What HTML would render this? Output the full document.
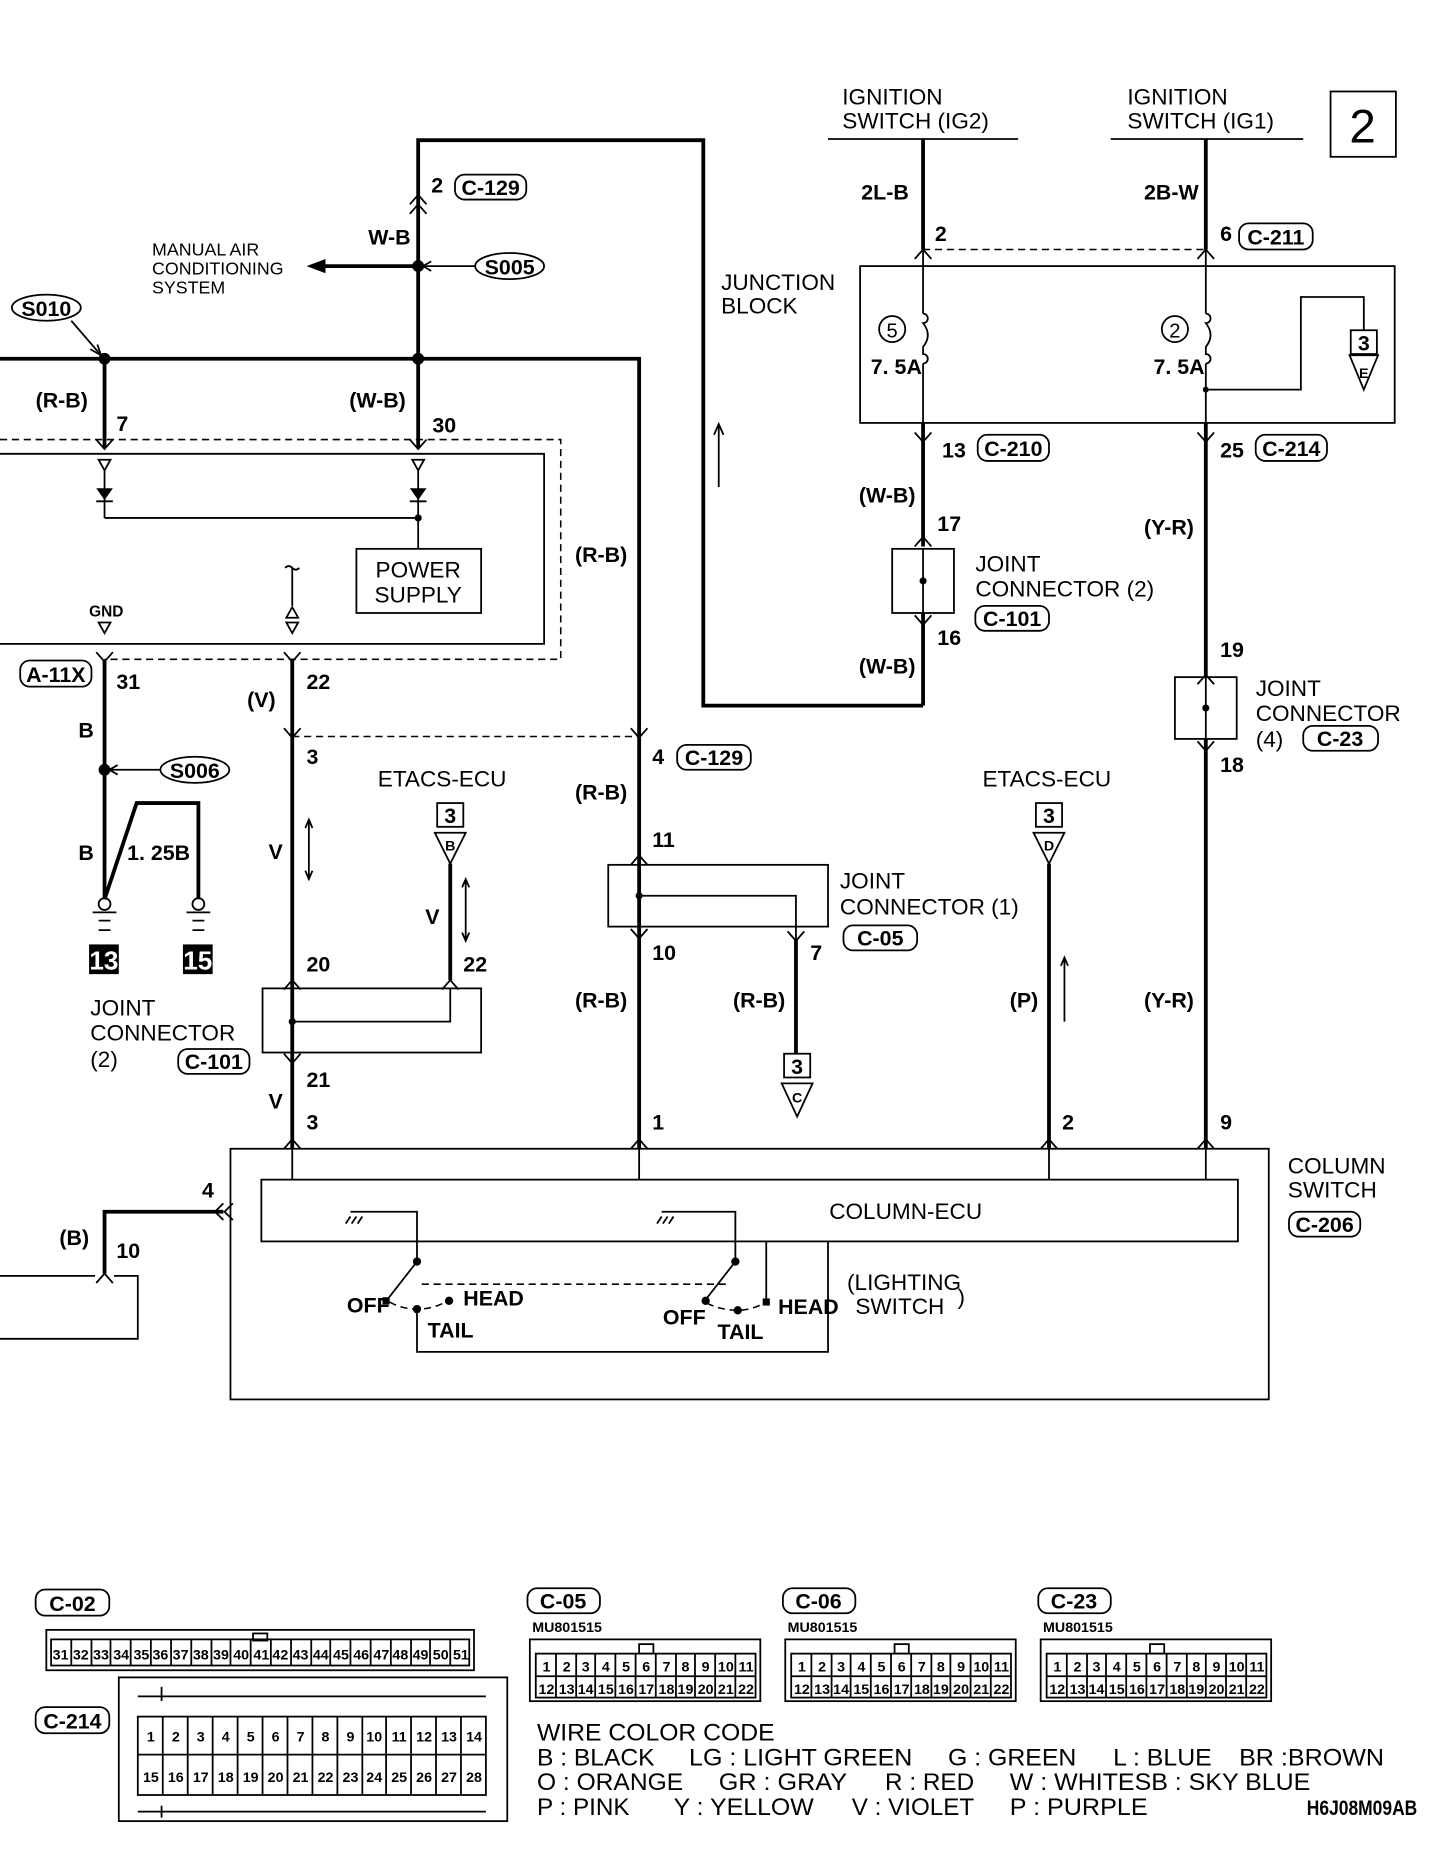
<!DOCTYPE html>
<html><head><meta charset="utf-8"><style>
html,body{margin:0;padding:0;background:#fff;}
svg{display:block}
text{font-family:"Liberation Sans",sans-serif;fill:#000}
.b{font-family:"Liberation Sans Narrow","Liberation Sans",sans-serif;font-weight:bold;font-size:18px}
.n{font-size:19px}
.s{font-size:15px}
.w{stroke:#000;stroke-width:3.2;fill:none}
.t{stroke:#000;stroke-width:1.5;fill:none}
.d{stroke:#000;stroke-width:1.3;fill:none;stroke-dasharray:6 4}
.bd{fill:none;stroke:#000;stroke-width:1.5}
.c{font-family:"Liberation Sans Narrow","Liberation Sans",sans-serif;font-weight:bold;font-size:12px}
</style></head><body>
<svg width="1456" height="1862" viewBox="0 0 1225.6 1567.4" preserveAspectRatio="none" xmlns="http://www.w3.org/2000/svg">
<rect x="1120" y="77" width="55" height="55" class="t" stroke-width="2"/>
<text x="1147" y="120" font-size="40" text-anchor="middle">2</text>

<text x="709" y="88" class="n">IGNITION</text>
<text x="709" y="108" class="n">SWITCH (IG2)</text>
<line x1="697" y1="117" x2="857" y2="117" class="t"/>
<text x="949" y="88" class="n">IGNITION</text>
<text x="949" y="108" class="n">SWITCH (IG1)</text>
<line x1="935" y1="117" x2="1097" y2="117" class="t"/>

<line x1="777" y1="117" x2="777" y2="210" class="w"/>
<line x1="1015" y1="117" x2="1015" y2="210" class="w"/>
<text x="725" y="168" class="b">2L-B</text>
<text x="963" y="168" class="b">2B-W</text>
<text x="787" y="203" class="b">2</text>
<text x="1027" y="203" class="b">6</text>
<rect x="1043" y="188" width="62" height="22" rx="8" class="bd"/><text x="1074" y="206" class="b" text-anchor="middle">C-211</text>
<line x1="777" y1="210" x2="1015" y2="210" class="d"/>
<path d="M770,218 L777,210 L784,218 M1008,218 L1015,210 L1022,218" class="t"/>

<rect x="724" y="224" width="450" height="132" class="t"/>
<text x="607" y="244" class="n">JUNCTION</text>
<text x="607" y="264" class="n">BLOCK</text>
<line x1="777" y1="210" x2="777" y2="264" class="t"/>
<line x1="1015" y1="210" x2="1015" y2="264" class="t"/>
<circle cx="751" cy="277" r="11" class="t"/><text x="751" y="284" font-size="17" text-anchor="middle">5</text>
<circle cx="989" cy="277" r="11" class="t"/><text x="989" y="284" font-size="17" text-anchor="middle">2</text>
<path d="M777,264 a4,4 0 0 1 0,8 q8,10 0,20 l0,6 a4,4 0 0 1 0,8" class="t"/>
<path d="M1015,264 a4,4 0 0 1 0,8 q8,10 0,20 l0,6 a4,4 0 0 1 0,8" class="t"/>
<text x="733" y="315" class="b">7. 5A</text>
<text x="971" y="315" class="b">7. 5A</text>
<line x1="777" y1="306" x2="777" y2="356" class="t"/>
<line x1="1015" y1="306" x2="1015" y2="356" class="t"/>
<circle cx="1015" cy="328" r="2.5"/>
<path d="M1015,328 L1095,328 L1095,250 L1148,250 L1148,278" class="t"/>
<rect x="1137" y="278" width="22" height="20" class="t"/><text x="1148" y="295" class="b" text-anchor="middle" font-size="16">3</text>
<path d="M1136,299 L1160,299 L1148,328 Z" class="t"/><text x="1148" y="318" font-size="12" font-weight="bold" text-anchor="middle">E</text>

<line x1="777" y1="356" x2="777" y2="460" class="w"/>
<path d="M770,364 L777,372 L784,364" class="t"/>
<text x="793" y="385" class="b">13</text>
<rect x="823" y="366" width="60" height="22" rx="8" class="bd"/><text x="853" y="384" class="b" text-anchor="middle">C-210</text>
<text x="723" y="423" class="b">(W-B)</text>
<text x="789" y="447" class="b">17</text>
<path d="M770,460 L777,452 L784,460" class="t"/>
<rect x="751" y="462" width="52" height="54" class="t"/>
<line x1="777" y1="462" x2="777" y2="516" class="t"/>
<circle cx="777" cy="489" r="3"/>
<text x="821" y="481" class="n">JOINT</text>
<text x="821" y="502" class="n">CONNECTOR (2)</text>
<rect x="821" y="510" width="62" height="21" rx="8" class="bd"/><text x="852" y="527" class="b" text-anchor="middle">C-101</text>
<text x="789" y="543" class="b">16</text>
<path d="M770,518 L777,526 L784,518" class="t"/>
<line x1="777" y1="516" x2="777" y2="594" class="w"/>
<text x="723" y="567" class="b">(W-B)</text>
<path d="M777,594 L592,594 L592,118 L352,118 L352,302" class="w"/>
<line x1="605" y1="410" x2="605" y2="357" class="t"/><path d="M601,366 L605,357 L609,366" class="t"/>

<line x1="1015" y1="356" x2="1015" y2="570" class="w"/>
<path d="M1008,364 L1015,372 L1022,364" class="t"/>
<text x="1027" y="385" class="b">25</text>
<rect x="1057" y="366" width="60" height="22" rx="8" class="bd"/><text x="1087" y="384" class="b" text-anchor="middle">C-214</text>
<text x="963" y="450" class="b">(Y-R)</text>
<text x="1027" y="553" class="b">19</text>
<path d="M1008,576 L1015,568 L1022,576" class="t"/>
<rect x="989" y="570" width="52" height="52" class="t"/>
<line x1="1015" y1="570" x2="1015" y2="622" class="t"/><circle cx="1015" cy="596" r="3"/>
<text x="1057" y="586" class="n">JOINT</text>
<text x="1057" y="607" class="n">CONNECTOR</text>
<text x="1057" y="629" class="n">(4)</text>
<rect x="1097" y="611" width="63" height="21" rx="8" class="bd"/><text x="1128" y="628" class="b" text-anchor="middle">C-23</text>
<text x="1027" y="650" class="b">18</text>
<path d="M1008,624 L1015,632 L1022,624" class="t"/>
<line x1="1015" y1="622" x2="1015" y2="967" class="w"/>
<text x="963" y="848" class="b">(Y-R)</text>
<text x="1027" y="951" class="b">9</text>
<path d="M1008,967 L1015,959 L1022,967" class="t"/>

<path d="M345,172 L352,164 L359,172 M345,180 L352,172 L359,180" class="t"/>
<text x="363" y="162" class="b">2</text>
<rect x="383" y="147" width="60" height="21" rx="8" class="bd"/><text x="413" y="164" class="b" text-anchor="middle">C-129</text>
<text x="310" y="206" class="b">W-B</text>
<circle cx="352" cy="224" r="5"/>
<line x1="352" y1="224" x2="270" y2="224" class="w"/>
<path d="M258,224 L274,218 L274,230 Z"/>
<text x="128" y="215" class="s">MANUAL AIR</text>
<text x="128" y="231" class="s">CONDITIONING</text>
<text x="128" y="247" class="s">SYSTEM</text>
<ellipse cx="429" cy="224" rx="29" ry="11" class="t" stroke-width="2"/><text x="429" y="231" class="b" text-anchor="middle">S005</text>
<line x1="400" y1="224" x2="356" y2="224" class="t"/><path d="M363,220 L356,224 L363,228" class="t"/>

<ellipse cx="39" cy="259" rx="29" ry="11" class="t" stroke-width="2"/><text x="39" y="266" class="b" text-anchor="middle">S010</text>
<line x1="60" y1="270" x2="85" y2="299" class="t"/><path d="M76,294 L85,299 L82,290" class="t"/>
<path d="M0,302 L538,302 L538,620" class="w"/>
<circle cx="88" cy="302" r="5"/><circle cx="352" cy="302" r="5"/>
<line x1="88" y1="302" x2="88" y2="377" class="w"/>
<line x1="352" y1="302" x2="352" y2="377" class="w"/>
<text x="30" y="343" class="b">(R-B)</text>
<text x="98" y="363" class="b">7</text>
<text x="294" y="343" class="b">(W-B)</text>
<text x="364" y="364" class="b">30</text>
<text x="484" y="473" class="b">(R-B)</text>
<path d="M81,370 L88,378 L95,370 M345,370 L352,378 L359,370" class="t"/>

<path d="M0,370 L472,370 L472,555 L88,555" class="d"/>
<path d="M0,382 L458,382 L458,542 L0,542" class="t"/>
<path d="M83,387 L93,387 L88,396 Z M347,387 L357,387 L352,396 Z" class="t"/>
<line x1="88" y1="396" x2="88" y2="436" class="t"/>
<line x1="352" y1="396" x2="352" y2="462" class="t"/>
<path d="M81,411 L95,411 L88,421 Z M345,411 L359,411 L352,421 Z"/>
<path d="M81,422 L95,422 M345,422 L359,422" class="t"/>
<line x1="88" y1="436" x2="352" y2="436" class="t"/>
<circle cx="352" cy="436" r="3"/>
<rect x="300" y="462" width="105" height="54" class="t"/>
<text x="352" y="486" class="n" text-anchor="middle">POWER</text>
<text x="352" y="507" class="n" text-anchor="middle">SUPPLY</text>
<text x="75" y="519" font-size="13" font-weight="bold" font-family="Liberation Sans Narrow, Liberation Sans, sans-serif">GND</text>
<path d="M83,524 L93,524 L88,533 Z" class="t"/>
<path d="M240,478 q3,-3 6,0 q3,3 6,0 M246,478 L246,510" class="t"/>
<path d="M241,520 L251,520 L246,511 Z M241,524 L251,524 L246,533 Z" class="t"/>

<path d="M81,549 L88,557 L95,549 M239,549 L246,557 L253,549" class="t"/>
<rect x="17" y="556" width="60" height="22" rx="8" class="bd"/><text x="47" y="574" class="b" text-anchor="middle">A-11X</text>
<text x="98" y="580" class="b">31</text>
<text x="258" y="580" class="b">22</text>
<line x1="88" y1="555" x2="88" y2="757" class="w"/>
<text x="208" y="595" class="b">(V)</text>
<text x="66" y="621" class="b">B</text>
<circle cx="88" cy="648" r="5"/>
<ellipse cx="164" cy="648" rx="29" ry="11" class="t" stroke-width="2"/><text x="164" y="655" class="b" text-anchor="middle">S006</text>
<line x1="135" y1="648" x2="92" y2="648" class="t"/><path d="M99,644 L92,648 L99,652" class="t"/>
<text x="66" y="724" class="b">B</text>
<path d="M88,757 L115,676 L167,676 L167,757" class="w"/>
<text x="107" y="724" class="b">1. 25B</text>
<circle cx="88" cy="761" r="5" class="t"/><circle cx="167" cy="761" r="5" class="t"/>
<path d="M78,768 L98,768 M83,775 L93,775 M83,783 L93,783 M157,768 L177,768 M162,775 L172,775 M162,783 L172,783" class="t"/>
<rect x="75" y="795" width="25" height="25"/><text x="87.5" y="816" style="fill:#fff" font-size="22" font-weight="bold" text-anchor="middle">13</text>
<rect x="154" y="795" width="25" height="25"/><text x="166.5" y="816" style="fill:#fff" font-size="22" font-weight="bold" text-anchor="middle">15</text>

<line x1="246" y1="555" x2="246" y2="967" class="w"/>
<line x1="246" y1="620" x2="538" y2="620" class="d"/>
<path d="M239,613 L246,621 L253,613 M531,613 L538,621 L545,613" class="t"/>
<text x="258" y="643" class="b">3</text>
<text x="226" y="723" class="b">V</text>
<path d="M260,690 L260,740 M257,697 L260,690 L263,697 M257,733 L260,740 L263,733" class="t" stroke-width="1"/>
<text x="318" y="662" class="n">ETACS-ECU</text>
<rect x="368" y="676" width="22" height="20" class="t"/><text x="379" y="693" class="b" text-anchor="middle" font-size="16">3</text>
<path d="M366,701 L392,701 L379,727 Z" class="t"/><text x="379" y="716" font-size="12" font-weight="bold" text-anchor="middle">B</text>
<line x1="379" y1="727" x2="379" y2="825" class="w"/>
<text x="358" y="778" class="b">V</text>
<path d="M392,740 L392,792 M389,747 L392,740 L395,747 M389,785 L392,792 L395,785" class="t" stroke-width="1"/>
<text x="258" y="818" class="b">20</text>
<text x="390" y="818" class="b">22</text>
<path d="M239,833 L246,825 L253,833 M372,833 L379,825 L386,833" class="t"/>
<rect x="221" y="832" width="184" height="54" class="t"/>
<path d="M246,860 L379,860 L379,832" class="t"/><circle cx="246" cy="860" r="3"/>
<path d="M239,887 L246,895 L253,887" class="t"/>
<text x="76" y="855" class="n">JOINT</text>
<text x="76" y="876" class="n">CONNECTOR</text>
<text x="76" y="898" class="n">(2)</text>
<rect x="150" y="883" width="60" height="21" rx="8" class="bd"/><text x="180" y="900" class="b" text-anchor="middle">C-101</text>
<text x="258" y="915" class="b">21</text>
<text x="226" y="933" class="b">V</text>
<text x="258" y="951" class="b">3</text>
<path d="M239,967 L246,959 L253,967" class="t"/>

<line x1="538" y1="620" x2="538" y2="967" class="w"/>
<text x="549" y="643" class="b">4</text>
<rect x="570" y="627" width="62" height="21" rx="8" class="bd"/><text x="601" y="644" class="b" text-anchor="middle">C-129</text>
<text x="484" y="673" class="b">(R-B)</text>
<text x="549" y="713" class="b">11</text>
<path d="M531,728 L538,720 L545,728" class="t"/>
<rect x="512" y="728" width="185" height="52" class="t"/>
<path d="M538,754 L670,754 L670,790" class="t"/><circle cx="538" cy="754" r="3"/>
<path d="M531,782 L538,790 L545,782 M663,784 L670,792 L677,784" class="t"/>
<line x1="670" y1="790" x2="670" y2="887" class="w"/>
<text x="682" y="808" class="b">7</text>
<text x="707" y="748" class="n">JOINT</text>
<text x="707" y="770" class="n">CONNECTOR (1)</text>
<rect x="710" y="779" width="62" height="21" rx="8" class="bd"/><text x="741" y="796" class="b" text-anchor="middle">C-05</text>
<text x="549" y="808" class="b">10</text>
<text x="484" y="848" class="b">(R-B)</text>
<text x="617" y="848" class="b">(R-B)</text>
<rect x="660" y="887" width="22" height="20" class="t"/><text x="671" y="904" class="b" text-anchor="middle" font-size="16">3</text>
<path d="M658,912 L684,912 L671,940 Z" class="t"/><text x="671" y="928" font-size="12" font-weight="bold" text-anchor="middle">C</text>
<text x="549" y="951" class="b">1</text>
<path d="M531,967 L538,959 L545,967" class="t"/>

<text x="827" y="662" class="n">ETACS-ECU</text>
<rect x="872" y="676" width="22" height="20" class="t"/><text x="883" y="693" class="b" text-anchor="middle" font-size="16">3</text>
<path d="M870,701 L896,701 L883,727 Z" class="t"/><text x="883" y="716" font-size="12" font-weight="bold" text-anchor="middle">D</text>
<line x1="883" y1="727" x2="883" y2="967" class="w"/>
<text x="850" y="848" class="b">(P)</text>
<path d="M896,860 L896,806 M893,813 L896,806 L899,813" class="t" stroke-width="1"/>
<text x="894" y="951" class="b">2</text>
<path d="M876,967 L883,959 L890,967" class="t"/>

<rect x="194" y="967" width="874" height="211" class="t"/>
<rect x="220" y="993" width="822" height="52" class="t"/>
<path d="M246,967 L246,993 M538,967 L538,993 M883,967 L883,993 M1015,967 L1015,993" class="t"/>
<text x="698" y="1026" class="n">COLUMN-ECU</text>
<text x="1084" y="988" class="n">COLUMN</text>
<text x="1084" y="1008" class="n">SWITCH</text>
<rect x="1085" y="1020" width="60" height="21" rx="8" class="bd"/><text x="1115" y="1037" class="b" text-anchor="middle">C-206</text>
<text x="170" y="1008" class="b">4</text>
<path d="M188,1013 L181,1020 L188,1027 M196,1013 L189,1020 L196,1027" class="t"/>
<path d="M188,1020 L88,1020 L88,1072" class="w"/>
<text x="50" y="1048" class="b">(B)</text>
<text x="98" y="1059" class="b">10</text>
<path d="M81,1080 L88,1072 L95,1080" class="t"/>
<path d="M0,1074 L80,1074 M96,1074 L116,1074 L116,1127 L0,1127" class="t"/>

<path d="M295,1020 L351,1020 L351,1060" class="t"/>
<path d="M291,1030 l4,-6 M296,1030 l4,-6 M301,1030 l4,-6" class="t" stroke-width="1"/>
<circle cx="351" cy="1062" r="3.5"/>
<line x1="351" y1="1062" x2="326" y2="1094" class="t" stroke-width="2"/>
<rect x="322" y="1092" width="6" height="6"/>
<path d="M328,1096 Q338,1102 351,1102 Q365,1102 377,1095" class="d" stroke-dasharray="4 3"/>
<circle cx="351" cy="1102" r="3.5"/><circle cx="378" cy="1095" r="3.5"/>
<text x="292" y="1105" class="b" font-size="17">OFF</text>
<text x="390" y="1099" class="b" font-size="17">HEAD</text>
<text x="360" y="1126" class="b" font-size="17">TAIL</text>
<path d="M351,1102 L351,1138 L697,1138 L697,1045" class="t"/>
<path d="M557,1020 L619,1020 L619,1060" class="t"/>
<path d="M553,1030 l4,-6 M558,1030 l4,-6 M563,1030 l4,-6" class="t" stroke-width="1"/>
<circle cx="619" cy="1062" r="3.5"/>
<line x1="619" y1="1062" x2="594" y2="1094" class="t" stroke-width="2"/>
<circle cx="594" cy="1095" r="3.5"/>
<path d="M595,1097 Q607,1103 621,1103 Q633,1103 645,1096" class="d" stroke-dasharray="4 3"/>
<circle cx="621" cy="1103" r="3.5"/><rect x="642" y="1093" width="6" height="6"/>
<line x1="645" y1="1045" x2="645" y2="1096" class="t"/>
<line x1="355" y1="1081" x2="611" y2="1081" class="d"/>
<text x="558" y="1115" class="b" font-size="17">OFF</text>
<text x="655" y="1106" class="b" font-size="17">HEAD</text>
<text x="604" y="1127" class="b" font-size="17">TAIL</text>
<text x="713" y="1086" class="n">(LIGHTING</text>
<text x="720" y="1106" class="n">SWITCH</text>
<text x="806" y="1098" class="n" font-size="24">)</text>

<rect x="30" y="1338" width="62" height="22" rx="8" class="bd"/><text x="61" y="1356" class="b" text-anchor="middle">C-02</text>
<rect x="30" y="1437" width="62" height="22" rx="8" class="bd"/><text x="61" y="1455" class="b" text-anchor="middle">C-214</text>
<rect x="39" y="1372" width="360" height="34" class="t"/>
<rect x="43" y="1380" width="352" height="22" class="t"/>
<g class="c" text-anchor="middle">
<text x="51" y="1397">31</text><text x="68" y="1397">32</text><text x="85" y="1397">33</text><text x="102" y="1397">34</text><text x="119" y="1397">35</text><text x="135" y="1397">36</text><text x="152" y="1397">37</text><text x="169" y="1397">38</text><text x="186" y="1397">39</text><text x="203" y="1397">40</text><text x="220" y="1397">41</text><text x="236" y="1397">42</text><text x="253" y="1397">43</text><text x="270" y="1397">44</text><text x="287" y="1397">45</text><text x="304" y="1397">46</text><text x="321" y="1397">47</text><text x="337" y="1397">48</text><text x="354" y="1397">49</text><text x="371" y="1397">50</text><text x="388" y="1397">51</text>
</g>
<path d="M60,1380v22 M77,1380v22 M93,1380v22 M110,1380v22 M127,1380v22 M144,1380v22 M161,1380v22 M178,1380v22 M194,1380v22 M211,1380v22 M228,1380v22 M245,1380v22 M262,1380v22 M278,1380v22 M295,1380v22 M312,1380v22 M329,1380v22 M346,1380v22 M362,1380v22 M379,1380v22" class="t" stroke-width="1"/>
<rect x="213" y="1375" width="12" height="6" class="t" stroke-width="1"/>

<rect x="100" y="1412" width="327" height="121" class="t"/>
<rect x="116" y="1445" width="293" height="66" class="t"/>
<line x1="116" y1="1477" x2="409" y2="1477" class="t"/>
<path d="M116,1428 L409,1428 M116,1525 L409,1525 M136,1420v12 M136,1520v10" class="t" stroke-width="1"/>
<path d="M137,1445v66 M158,1445v66 M179,1445v66 M200,1445v66 M221,1445v66 M242,1445v66 M263,1445v66 M284,1445v66 M305,1445v66 M325,1445v66 M346,1445v66 M367,1445v66 M388,1445v66" class="t" stroke-width="1"/>
<g class="c" text-anchor="middle" font-size="13">
<text x="127" y="1466">1</text><text x="148" y="1466">2</text><text x="169" y="1466">3</text><text x="190" y="1466">4</text><text x="211" y="1466">5</text><text x="232" y="1466">6</text><text x="253" y="1466">7</text><text x="274" y="1466">8</text><text x="295" y="1466">9</text><text x="315" y="1466">10</text><text x="336" y="1466">11</text><text x="357" y="1466">12</text><text x="378" y="1466">13</text><text x="399" y="1466">14</text>
<text x="127" y="1500">15</text><text x="148" y="1500">16</text><text x="169" y="1500">17</text><text x="190" y="1500">18</text><text x="211" y="1500">19</text><text x="232" y="1500">20</text><text x="253" y="1500">21</text><text x="274" y="1500">22</text><text x="295" y="1500">23</text><text x="315" y="1500">24</text><text x="336" y="1500">25</text><text x="357" y="1500">26</text><text x="378" y="1500">27</text><text x="399" y="1500">28</text>
</g>

<g>
<rect x="444" y="1337" width="61" height="21" rx="8" class="bd"/><text x="474" y="1354" class="b" text-anchor="middle">C-05</text>
<text x="448" y="1374" class="c">MU801515</text>
<rect x="446" y="1380" width="194" height="52" class="t"/>
<rect x="451" y="1392" width="185" height="37" class="t" stroke-width="1"/>
<line x1="451" y1="1411" x2="636" y2="1411" class="t"/>
<rect x="538" y="1384" width="12" height="8" class="t" stroke-width="1"/>
<path d="M468,1392v37 M485,1392v37 M501,1392v37 M518,1392v37 M535,1392v37 M552,1392v37 M569,1392v37 M585,1392v37 M602,1392v37 M619,1392v37" class="t" stroke-width="1"/>
<g class="c" text-anchor="middle">
<text x="460" y="1407">1</text><text x="477" y="1407">2</text><text x="493" y="1407">3</text><text x="510" y="1407">4</text><text x="527" y="1407">5</text><text x="544" y="1407">6</text><text x="561" y="1407">7</text><text x="577" y="1407">8</text><text x="594" y="1407">9</text><text x="611" y="1407">10</text><text x="628" y="1407">11</text>
<text x="460" y="1426">12</text><text x="477" y="1426">13</text><text x="493" y="1426">14</text><text x="510" y="1426">15</text><text x="527" y="1426">16</text><text x="544" y="1426">17</text><text x="561" y="1426">18</text><text x="577" y="1426">19</text><text x="594" y="1426">20</text><text x="611" y="1426">21</text><text x="628" y="1426">22</text>
</g>
</g>
<g transform="translate(215,0)">
<rect x="444" y="1337" width="61" height="21" rx="8" class="bd"/><text x="474" y="1354" class="b" text-anchor="middle">C-06</text>
<text x="448" y="1374" class="c">MU801515</text>
<rect x="446" y="1380" width="194" height="52" class="t"/>
<rect x="451" y="1392" width="185" height="37" class="t" stroke-width="1"/>
<line x1="451" y1="1411" x2="636" y2="1411" class="t"/>
<rect x="538" y="1384" width="12" height="8" class="t" stroke-width="1"/>
<path d="M468,1392v37 M485,1392v37 M501,1392v37 M518,1392v37 M535,1392v37 M552,1392v37 M569,1392v37 M585,1392v37 M602,1392v37 M619,1392v37" class="t" stroke-width="1"/>
<g class="c" text-anchor="middle">
<text x="460" y="1407">1</text><text x="477" y="1407">2</text><text x="493" y="1407">3</text><text x="510" y="1407">4</text><text x="527" y="1407">5</text><text x="544" y="1407">6</text><text x="561" y="1407">7</text><text x="577" y="1407">8</text><text x="594" y="1407">9</text><text x="611" y="1407">10</text><text x="628" y="1407">11</text>
<text x="460" y="1426">12</text><text x="477" y="1426">13</text><text x="493" y="1426">14</text><text x="510" y="1426">15</text><text x="527" y="1426">16</text><text x="544" y="1426">17</text><text x="561" y="1426">18</text><text x="577" y="1426">19</text><text x="594" y="1426">20</text><text x="611" y="1426">21</text><text x="628" y="1426">22</text>
</g>
</g>
<g transform="translate(430,0)">
<rect x="444" y="1337" width="61" height="21" rx="8" class="bd"/><text x="474" y="1354" class="b" text-anchor="middle">C-23</text>
<text x="448" y="1374" class="c">MU801515</text>
<rect x="446" y="1380" width="194" height="52" class="t"/>
<rect x="451" y="1392" width="185" height="37" class="t" stroke-width="1"/>
<line x1="451" y1="1411" x2="636" y2="1411" class="t"/>
<rect x="538" y="1384" width="12" height="8" class="t" stroke-width="1"/>
<path d="M468,1392v37 M485,1392v37 M501,1392v37 M518,1392v37 M535,1392v37 M552,1392v37 M569,1392v37 M585,1392v37 M602,1392v37 M619,1392v37" class="t" stroke-width="1"/>
<g class="c" text-anchor="middle">
<text x="460" y="1407">1</text><text x="477" y="1407">2</text><text x="493" y="1407">3</text><text x="510" y="1407">4</text><text x="527" y="1407">5</text><text x="544" y="1407">6</text><text x="561" y="1407">7</text><text x="577" y="1407">8</text><text x="594" y="1407">9</text><text x="611" y="1407">10</text><text x="628" y="1407">11</text>
<text x="460" y="1426">12</text><text x="477" y="1426">13</text><text x="493" y="1426">14</text><text x="510" y="1426">15</text><text x="527" y="1426">16</text><text x="544" y="1426">17</text><text x="561" y="1426">18</text><text x="577" y="1426">19</text><text x="594" y="1426">20</text><text x="611" y="1426">21</text><text x="628" y="1426">22</text>
</g>
</g>

<g font-size="20">
<text x="452" y="1465" textLength="200" lengthAdjust="spacingAndGlyphs">WIRE COLOR CODE</text>
<text x="452" y="1486" textLength="99" lengthAdjust="spacingAndGlyphs">B : BLACK</text>
<text x="580" y="1486" textLength="188" lengthAdjust="spacingAndGlyphs">LG : LIGHT GREEN</text>
<text x="798" y="1486" textLength="108" lengthAdjust="spacingAndGlyphs">G : GREEN</text>
<text x="937" y="1486" textLength="83" lengthAdjust="spacingAndGlyphs">L : BLUE</text>
<text x="1043" y="1486" textLength="122" lengthAdjust="spacingAndGlyphs">BR :BROWN</text>
<text x="452" y="1507" textLength="123" lengthAdjust="spacingAndGlyphs">O : ORANGE</text>
<text x="605" y="1507" textLength="108" lengthAdjust="spacingAndGlyphs">GR : GRAY</text>
<text x="745" y="1507" textLength="75" lengthAdjust="spacingAndGlyphs">R : RED</text>
<text x="850" y="1507" textLength="253" lengthAdjust="spacingAndGlyphs">W : WHITESB : SKY BLUE</text>
<text x="452" y="1528" textLength="78" lengthAdjust="spacingAndGlyphs">P : PINK</text>
<text x="567" y="1528" textLength="118" lengthAdjust="spacingAndGlyphs">Y : YELLOW</text>
<text x="717" y="1528" textLength="103" lengthAdjust="spacingAndGlyphs">V : VIOLET</text>
<text x="850" y="1528" textLength="116" lengthAdjust="spacingAndGlyphs">P : PURPLE</text>
</g>
<text x="1100" y="1528" class="b" font-size="15" textLength="93" lengthAdjust="spacingAndGlyphs">H6J08M09AB</text>
</svg>
</body></html>
